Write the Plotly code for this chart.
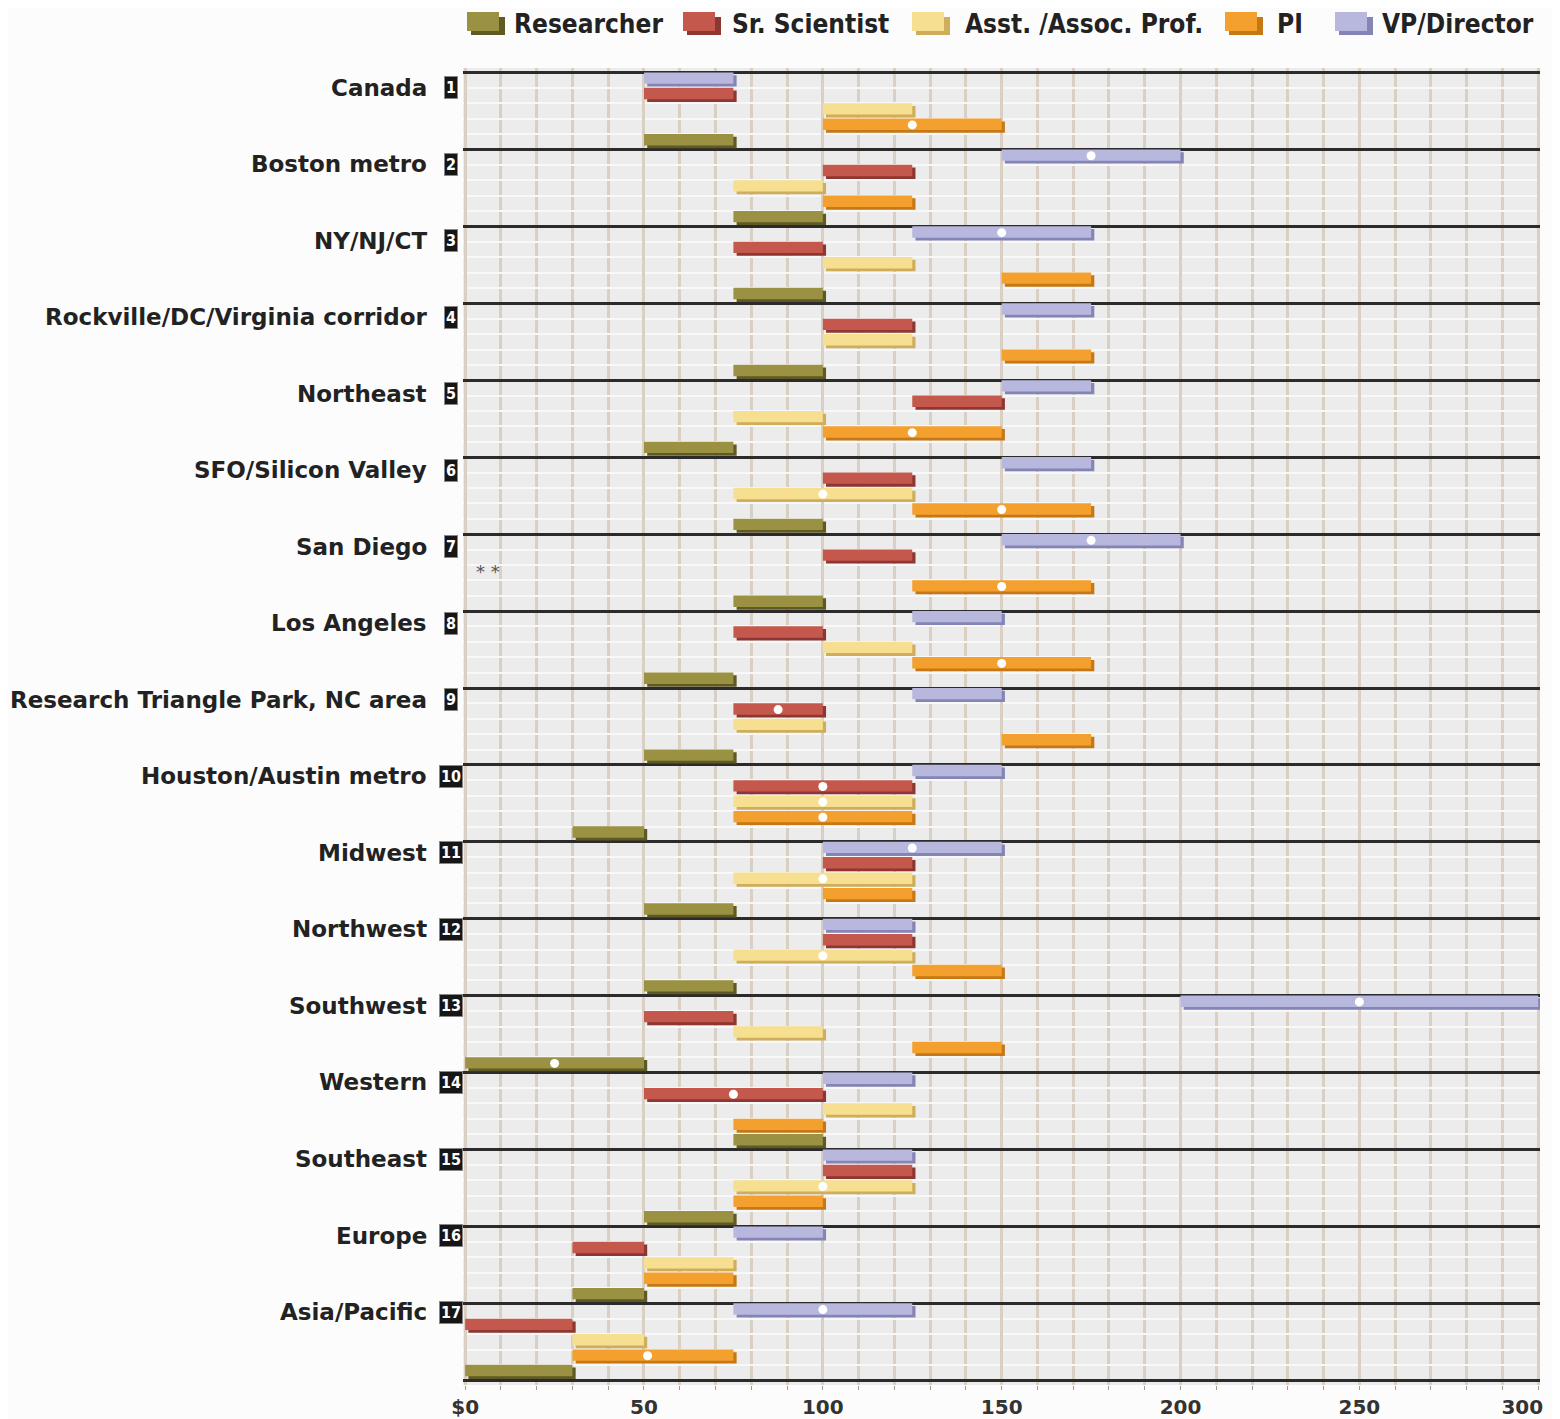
import plotly.graph_objects as go

# salary ranges in $K
regions = ["Canada", "Boston metro", "NY/NJ/CT", "Rockville/DC/Virginia corridor",
           "Northeast", "SFO/Silicon Valley", "San Diego", "Los Angeles",
           "Research Triangle Park, NC area", "Houston/Austin metro", "Midwest",
           "Northwest", "Southwest", "Western", "Southeast", "Europe", "Asia/Pacific"]

categories = ["VP/Director", "Sr. Scientist", "Asst. /Assoc. Prof.", "PI", "Researcher"]
legend_order = ["Researcher", "Sr. Scientist", "Asst. /Assoc. Prof.", "PI", "VP/Director"]

vp_low = [50, 150, 125, 150, 150, 150, 150, 125, 125, 125, 100, 100, 200, 100, 100, 75, 75]
vp_high = [75, 200, 175, 175, 175, 175, 200, 150, 150, 150, 150, 125, 300, 125, 125, 100, 125]
vp_dot = [None, 175, 150, None, None, None, 175, None, None, None, 125, None, 250, None, None, None, 100]

sr_low = [50, 100, 75, 100, 125, 100, 100, 75, 75, 75, 100, 100, 50, 50, 100, 30, 0]
sr_high = [75, 125, 100, 125, 150, 125, 125, 100, 100, 125, 125, 125, 75, 100, 125, 50, 30]
sr_dot = [None, None, None, None, None, None, None, None, 87.5, 100, None, None, None, 75, None, None, None]

asst_low = [100, 75, 100, 100, 75, 75, None, 100, 75, 75, 75, 75, 75, 100, 75, 50, 30]
asst_high = [125, 100, 125, 125, 100, 125, None, 125, 100, 125, 125, 125, 100, 125, 125, 75, 50]
asst_dot = [None, None, None, None, None, 100, None, None, None, 100, 100, 100, None, None, 100, None, None]

pi_low = [100, 100, 150, 150, 100, 125, 125, 125, 150, 75, 100, 125, 125, 75, 75, 50, 30]
pi_high = [150, 125, 175, 175, 150, 175, 175, 175, 175, 125, 125, 150, 150, 100, 100, 75, 75]
pi_dot = [125, None, None, None, 125, 150, 150, 150, None, 100, None, None, None, None, None, None, 51]

res_low = [50, 75, 75, 75, 50, 75, 75, 50, 50, 30, 50, 50, 0, 75, 50, 30, 0]
res_high = [75, 100, 100, 100, 75, 100, 100, 75, 75, 50, 75, 75, 50, 100, 75, 50, 30]
res_dot = [None, None, None, None, None, None, None, None, None, None, None, None, 25, None, None, None, None]

x_ticks = [0, 50, 100, 150, 200, 250, 300]
x_ticktext = ["$0", "50", "100", "150", "200", "250", "300"]

series = {
    "VP/Director": (vp_low, vp_high, vp_dot),
    "Sr. Scientist": (sr_low, sr_high, sr_dot),
    "Asst. /Assoc. Prof.": (asst_low, asst_high, asst_dot),
    "PI": (pi_low, pi_high, pi_dot),
    "Researcher": (res_low, res_high, res_dot),
}
face = {"Researcher": "#9a9142", "Sr. Scientist": "#c4584d", "Asst. /Assoc. Prof.": "#f6df90",
        "PI": "#f3a02f", "VP/Director": "#b8b8df"}
shade = {"Researcher": "#5f5a24", "Sr. Scientist": "#8e3631", "Asst. /Assoc. Prof.": "#cfad5b",
         "PI": "#c77816", "VP/Director": "#8484b6"}

# page body has an 8px margin, so the figure is drawn 8px smaller and shifted
OFF = 8
W, H = 1560 - OFF, 1419 - OFF
L, R, T, B = 455, 20, 60, 34
PW, PH = W - L - R, H - T - B


def px2x(px):
    # screen pixel -> paper x
    return (px - OFF - L) / PW


def px2y(py):
    # screen pixel -> paper y
    return (H - B - (py - OFF)) / PH


fig = go.Figure()

for k, cat in enumerate(categories):
    lo, hi, dots = series[cat]
    ys, bases, lens, dx, dy = [], [], [], [], []
    for i in range(len(regions)):
        if lo[i] is None:
            continue
        ys.append(5 * i + k + 0.45)
        bases.append(lo[i])
        lens.append(hi[i] - lo[i])
        if dots[i] is not None:
            dx.append(dots[i])
            dy.append(5 * i + k + 0.4)
    # darker "3d" underside
    fig.add_trace(go.Bar(y=ys, x=lens, base=[b + 0.9 for b in bases], orientation="h",
                         width=0.74, offset=-0.28, marker=dict(color=shade[cat], line_width=0),
                         showlegend=False, hoverinfo="skip"))
    fig.add_trace(go.Bar(y=ys, x=lens, base=bases, orientation="h", name=cat,
                         width=0.74, offset=-0.46, marker=dict(color=face[cat], line_width=0),
                         showlegend=False))
    fig.add_trace(go.Scatter(x=dx, y=dy, mode="markers", showlegend=False, hoverinfo="skip",
                             marker=dict(color="white", size=9, line=dict(width=0))))

# region labels and number badges
for i, name in enumerate(regions):
    yy = 5 * i + (15 - 0.4 * i) / 15.38
    fig.add_annotation(x=px2x(429), xref="paper", y=yy, yref="y", text="<b>%s</b>" % name,
                       xanchor="right", showarrow=False,
                       font=dict(family="DejaVu Sans", size=23, color="#222"))
    fig.add_annotation(x=px2x(451), xref="paper", y=yy, yref="y", text="<b>%d</b>" % (i + 1),
                       xanchor="center", showarrow=False, bgcolor="#161616",
                       bordercolor="#888", borderwidth=1, borderpad=1,
                       font=dict(family="Liberation Sans Narrow, DejaVu Sans Condensed", size=16, color="white"))

# San Diego: no data for Asst./Assoc. Prof.
fig.add_annotation(x=6.5, y=5 * 6 + 2.45, text="* *", showarrow=False,
                   font=dict(family="DejaVu Sans", size=18, color="#555"))

# legend drawn by hand to get the wide swatches
sw_left = [467, 683, 912, 1225, 1335]
txt_left = [512, 730, 963, 1275, 1380]
for cat, sx, tx in zip(legend_order, sw_left, txt_left):
    fig.add_shape(type="rect", xref="paper", yref="paper", x0=px2x(sx + 4), x1=px2x(sx + 38),
                  y0=px2y(35), y1=px2y(17), fillcolor=shade[cat], line_width=0)
    fig.add_shape(type="rect", xref="paper", yref="paper", x0=px2x(sx), x1=px2x(sx + 32),
                  y0=px2y(31), y1=px2y(12), fillcolor=face[cat], line_width=0)
    fig.add_annotation(x=px2x(tx), xref="paper", y=px2y(24), yref="paper", text="<b>%s</b>" % cat,
                       xanchor="left", yanchor="middle", showarrow=False,
                       font=dict(family="Liberation Sans Narrow, DejaVu Sans Condensed", size=26, color="#222"))

# last tick label sits inside the right edge, as in the original
tick_labels = ["<b>%s</b>" % t for t in x_ticktext]
tick_labels[-1] = "<b>300</b>" + "&nbsp;" * 5

fig.update_layout(
    width=W, height=H,
    margin=dict(l=L, r=R, t=T, b=B),
    barmode="overlay",
    plot_bgcolor="#ececec",
    paper_bgcolor="#fcfcfc",
    showlegend=False,
)
fig.update_xaxes(range=[-0.6, 300.5], tickvals=x_ticks, ticktext=tick_labels,
                 automargin=False, ticklabeloverflow="allow",
                 showgrid=True, gridcolor="#d9d0c3", gridwidth=2.5, zeroline=False,
                 ticks="outside", ticklen=4, tickcolor="#999",
                 tickfont=dict(family="DejaVu Sans", size=20, color="#333"),
                 minor=dict(dtick=10, tick0=0, showgrid=True, gridcolor="#d9d0c3", gridwidth=2.5,
                            ticks="outside", ticklen=4, tickcolor="#999"))
fig.update_yaxes(range=[85.3, -0.3], tickvals=list(range(0, 90, 5)), showticklabels=False,
                 automargin=False,
                 showgrid=True, gridcolor="#2b2b2b", gridwidth=3, zeroline=False,
                 minor=dict(dtick=1, tick0=0, showgrid=True, gridcolor="#f8f8f8", gridwidth=2))

fig.write_html("out.html")
